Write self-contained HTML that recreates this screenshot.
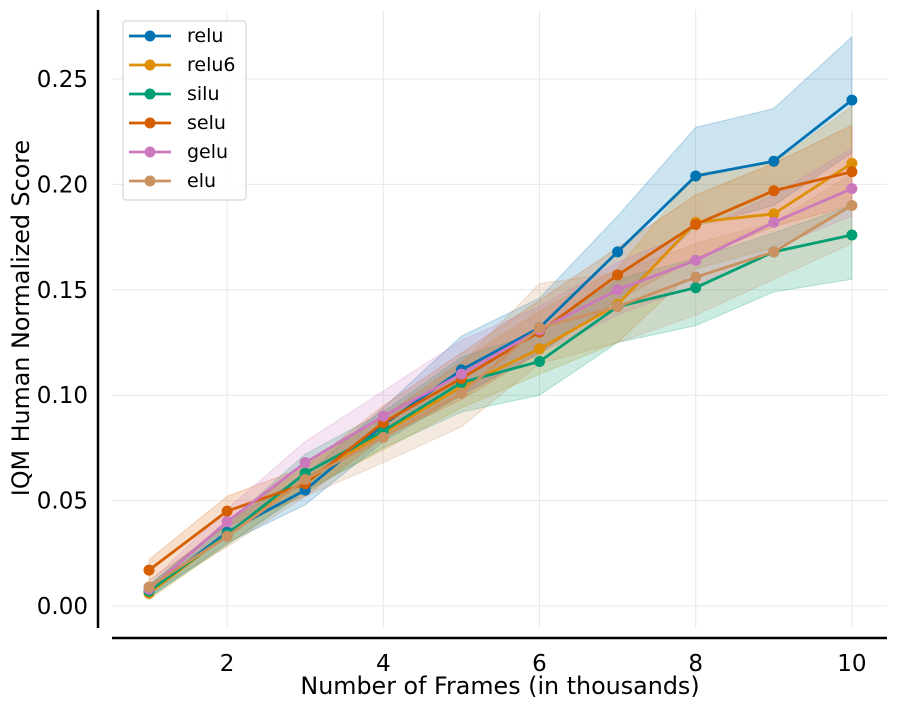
<!DOCTYPE html>
<html><head><meta charset="utf-8"><style>
html,body{margin:0;padding:0;background:#fff;}
svg{display:block;font-family:"DejaVu Sans","Liberation Sans",sans-serif;}
</style></head><body>
<svg id="chart" width="897" height="708" viewBox="0 0 897 708">
<g id="grid"></g>
<g id="bands"></g>
<g id="lines"></g>
<g id="axes"></g>
<g id="legend"></g>
</svg>
<script>
const xs = [1,2,3,4,5,6,7,8,9,10];
const xTicks = [2,4,6,8,10];
const yTicks = [0,0.05,0.10,0.15,0.20,0.25];
const yTickLabels = ["0.00","0.05","0.10","0.15","0.20","0.25"];
const seriesNames = ["relu","relu6","silu","selu","gelu","elu"];
const seriesColors = ["#0173b2","#de8f05","#029e73","#d55e00","#cc78bc","#ca9161"];
const reluVals  = [0.007,0.035,0.055,0.086,0.112,0.132,0.168,0.204,0.211,0.240];
const relu6Vals = [0.006,0.034,0.060,0.082,0.104,0.122,0.143,0.182,0.186,0.210];
const siluVals  = [0.007,0.034,0.063,0.083,0.106,0.116,0.142,0.151,0.168,0.176];
const seluVals  = [0.017,0.045,0.058,0.087,0.108,0.130,0.157,0.181,0.197,0.206];
const geluVals  = [0.008,0.040,0.068,0.090,0.110,0.131,0.150,0.164,0.182,0.198];
const eluVals   = [0.009,0.033,0.060,0.080,0.101,0.132,0.142,0.156,0.168,0.190];
const reluLo  = [0.004,0.030,0.048,0.078,0.100,0.120,0.145,0.180,0.190,0.215];
const reluHi  = [0.010,0.040,0.062,0.094,0.128,0.146,0.185,0.227,0.236,0.270];
const relu6Lo = [0.003,0.029,0.055,0.074,0.094,0.110,0.125,0.160,0.170,0.190];
const relu6Hi = [0.010,0.040,0.066,0.090,0.116,0.140,0.160,0.205,0.210,0.237];
const siluLo  = [0.004,0.029,0.054,0.075,0.092,0.100,0.125,0.133,0.149,0.155];
const siluHi  = [0.010,0.039,0.072,0.092,0.118,0.130,0.155,0.165,0.177,0.190];
const seluLo  = [0.012,0.038,0.052,0.080,0.098,0.120,0.145,0.165,0.180,0.190];
const seluHi  = [0.022,0.052,0.066,0.095,0.120,0.145,0.170,0.195,0.210,0.228];
const geluLo  = [0.005,0.034,0.060,0.082,0.100,0.120,0.138,0.152,0.170,0.185];
const geluHi  = [0.011,0.046,0.078,0.102,0.126,0.142,0.163,0.178,0.195,0.217];
const eluLo   = [0.006,0.028,0.052,0.068,0.085,0.115,0.125,0.138,0.155,0.172];
const eluHi   = [0.012,0.038,0.068,0.090,0.115,0.153,0.158,0.172,0.182,0.205];
const allVals = [reluVals,relu6Vals,siluVals,seluVals,geluVals,eluVals];
const allLo = [reluLo,relu6Lo,siluLo,seluLo,geluLo,eluLo];
const allHi = [reluHi,relu6Hi,siluHi,seluHi,geluHi,eluHi];

const NS="http://www.w3.org/2000/svg";
const X0=112,X1=887,Y0=10,Y1=628;
function xScale(v){return 149+(v-1)*78.1;}
function yScale(v){return 606-v*2108;}
function mk(tag,attrs,parent){const e=document.createElementNS(NS,tag);for(const k in attrs)e.setAttribute(k,attrs[k]);parent.appendChild(e);return e;}

const grid=document.getElementById('grid');
xTicks.forEach(t=>{const l=mk('line',{x1:xScale(t),x2:xScale(t),y1:Y0,y2:Y1,stroke:'#e8e8e8','stroke-width':1},grid);

});
yTicks.forEach(t=>{const l=mk('line',{x1:X0,x2:X1,y1:yScale(t),y2:yScale(t),stroke:'#e8e8e8','stroke-width':1},grid);

});

const bands=document.getElementById('bands');
seriesNames.forEach((n,i)=>{
  let pts=xs.map((x,j)=>xScale(x)+','+yScale(allHi[i][j]));
  for(let j=xs.length-1;j>=0;j--)pts.push(xScale(xs[j])+','+yScale(allLo[i][j]));
  const p=mk('polygon',{points:pts.join(' '),fill:seriesColors[i],'fill-opacity':0.2,stroke:seriesColors[i],'stroke-opacity':0.25},bands);
  
  
});
const lines=document.getElementById('lines');
seriesNames.forEach((n,i)=>{
  const pl=mk('polyline',{points:xs.map((x,j)=>xScale(x)+','+yScale(allVals[i][j])).join(' '),fill:'none',stroke:seriesColors[i],'stroke-width':2.8},lines);
  
  
  xs.forEach((x,j)=>{const c=mk('circle',{cx:xScale(x),cy:yScale(allVals[i][j]),r:5.5,fill:seriesColors[i]},lines);
  
  });
});

const axes=document.getElementById('axes');
const ls=mk('line',{x1:98,x2:98,y1:10,y2:628,stroke:'#000','stroke-width':2.5},axes);


const bs=mk('line',{x1:112,x2:887,y1:638,y2:638,stroke:'#000','stroke-width':2.5},axes);


xTicks.forEach(t=>{const tx=mk('text',{x:xScale(t),y:671,'text-anchor':'middle','font-size':23,fill:'#000'},axes);tx.textContent=t;

});
yTicks.forEach((t,i)=>{const tx=mk('text',{x:88,y:yScale(t)+8,'text-anchor':'end','font-size':23,fill:'#000'},axes);tx.textContent=yTickLabels[i];

});
const xt=mk('text',{x:500,y:694,'text-anchor':'middle','font-size':23.8,fill:'#000'},axes);xt.textContent='Number of Frames (in thousands)';


const yt=mk('text',{x:0,y:0,'text-anchor':'middle','font-size':23.8,fill:'#000',transform:'translate(29,318) rotate(-90)'},axes);yt.textContent='IQM Human Normalized Score';



const lg=document.getElementById('legend');
const box=mk('rect',{x:123,y:21,width:123,height:179,rx:3,fill:'#fff','fill-opacity':0.85,stroke:'#ccc'},lg);


seriesNames.forEach((n,i)=>{
  const y=36+i*29;
  const g=mk('g',{},lg);
  
  
  mk('line',{x1:129,x2:171,y1:y,y2:y,stroke:seriesColors[i],'stroke-width':2.8},g);
  mk('circle',{cx:150,cy:y,r:5.5,fill:seriesColors[i]},g);
  const t=mk('text',{x:187,y:y+6,'font-size':19,fill:'#000'},g);t.textContent=n;
});
</script>
</body></html>
